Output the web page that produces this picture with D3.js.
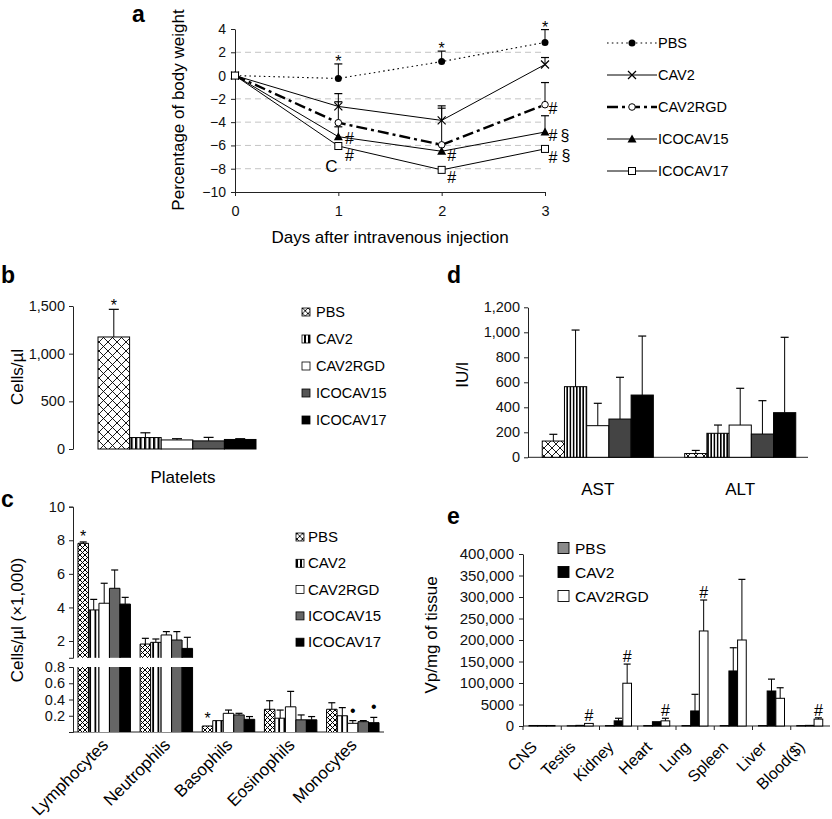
<!DOCTYPE html>
<html>
<head>
<meta charset="utf-8">
<script src="https://cdnjs.cloudflare.com/ajax/libs/d3/7.8.5/d3.min.js"></script>
<style>
  body { margin: 0; background: #fff; }
  svg { font-family: "Liberation Sans", Arial, Helvetica, sans-serif; }
</style>
</head>
<body>
<svg id="fig" width="832" height="819"></svg>
<script>
// a: body weight (% change) over days
var days = [0, 1, 2, 3];
var weightTicks = [-10, -8, -6, -4, -2, 0, 2, 4];
var weightGrid = [-8, -6, -4, -2, 2];
var wPBS = [0, -0.25, 1.2, 2.85];
var wPBSErr = [null, 1.0, 2.1, 3.95];
var wCAV2 = [0, -2.65, -3.85, 0.95];
var wCAV2Err = [null, -1.55, -2.6, 1.55];
var wCAV2RGD = [0, -4.05, -5.95, -2.5];
var wCAV2RGDErr = [null, -2.25, -2.8, -0.6];
var wICO15 = [0, -5.25, -6.5, -4.85];
var wICO15Err = [null, -4.4, null, -3.45];
var wICO17 = [0, -6.05, -8.1, -6.3];
var wICO17Err = [null, null, null, null];

// b: platelets
var groups = ["PBS", "CAV2", "CAV2RGD", "ICOCAV15", "ICOCAV17"];
var platelets = [1175, 120, 95, 85, 100];
var plateletsErr = [1465, 170, 108, 122, 108];
var plateletTicks = [0, 500, 1000, 1500];

// c: white cells (x1,000 per ul), broken axis
var cellTypes = ["Lymphocytes", "Neutrophils", "Basophils", "Eosinophils", "Monocytes"];
var cellsPBS = [7.82, 1.82, 0.074, 0.28, 0.28];
var cellsPBSErr = [7.9, 2.16, null, 0.385, 0.36];
var cellsCAV2 = [3.85, 1.92, 0.14, 0.17, 0.2];
var cellsCAV2Err = [4.48, 2.12, null, 0.27, 0.3];
var cellsCAV2RGD = [4.25, 2.36, 0.23, 0.31, 0.107];
var cellsCAV2RGDErr = [5.44, 2.56, 0.27, 0.5, 0.14];
var cellsICO15 = [5.14, 2.06, 0.21, 0.15, 0.127];
var cellsICO15Err = [6.23, 2.56, 0.23, 0.21, 0.14];
var cellsICO17 = [4.2, 1.56, 0.156, 0.15, 0.115];
var cellsICO17Err = [4.6, 2.22, 0.19, 0.19, 0.18];
var cellTicksHigh = [2, 4, 6, 8, 10];
var cellTicksLow = [0.2, 0.4, 0.6, 0.8];

// d: liver enzymes
var enzymes = ["AST", "ALT"];
var enzPBS = [130, 30];
var enzPBSErr = [184, 55];
var enzCAV2 = [565, 192];
var enzCAV2Err = [1018, 258];
var enzCAV2RGD = [253, 258];
var enzCAV2RGDErr = [432, 552];
var enzICO15 = [306, 186];
var enzICO15Err = [640, 453];
var enzICO17 = [498, 357];
var enzICO17Err = [970, 960];
var enzTicks = [0, 200, 400, 600, 800, 1000, 1200];

// e: biodistribution
var tissues = ["CNS", "Testis", "Kidney", "Heart", "Lung", "Spleen", "Liver", "Blood($)"];
var vpGroups = ["PBS", "CAV2", "CAV2RGD"];
var vpPBS = [120, 60, 100, 100, 100, 100, 100, 100];
var vpPBSErr = [null, null, null, null, null, null, null, null];
var vpCAV2 = [120, 150, 1200, 1000, 3500, 128000, 64700, 150];
var vpCAV2Err = [null, null, 1800, null, 50000, 182000, 109000, null];
var vpCAV2RGD = [120, 600, 99000, 1200, 221000, 200000, 32400, 1600];
var vpCAV2RGDErr = [null, null, 144000, 1800, 293000, 341000, 79000, 1900];
var vpTicks = [0, 5000, 100000, 150000, 200000, 250000, 300000, 350000, 400000];
var vpTickLabels = ["0", "5000", "100,000", "150,000", "200,000", "250,000", "300,000", "350,000", "400,000"];

var svg = d3.select("#fig");
var defs = svg.append("defs");

function crossHatch(id, s, sw) {
    var p = defs.append("pattern").attr("id", id).attr("patternUnits", "userSpaceOnUse")
        .attr("width", s).attr("height", s);
    p.append("rect").attr("width", s).attr("height", s).attr("fill", "#fff");
    p.append("path").attr("d", "M0,0L" + s + "," + s + "M" + s + ",0L0," + s)
        .attr("stroke", "#000").attr("stroke-width", sw);
}
function stripes(id, w, bw) {
    var p = defs.append("pattern").attr("id", id).attr("patternUnits", "userSpaceOnUse")
        .attr("width", w).attr("height", 10);
    p.append("rect").attr("width", w).attr("height", 10).attr("fill", "#fff");
    p.append("rect").attr("width", bw).attr("height", 10).attr("fill", "#000");
}
crossHatch("hatchB", 9, 0.9);
crossHatch("hatchC", 5, 1);
crossHatch("hatchD", 8, 0.9);
crossHatch("hatchLeg", 5.5, 0.9);
stripes("stripeB", 4.5, 2.2);
stripes("stripeC", 5.25, 1.8);
stripes("stripeD", 3.2, 1.6);
stripes("stripeLeg", 4, 2);

function panelLetter(t, x, y) {
    svg.append("text").attr("x", x).attr("y", y).text(t)
       .style("font-size", "23px").style("font-weight", "bold");
}
function styleAxis(g, size) {
    g.selectAll("text").style("font-size", size + "px").attr("fill", "#111");
    g.selectAll("line").attr("stroke", "#222");
    g.select(".domain").attr("stroke", "#222");
}
function errBar(g, x, y0, y1, cap) {
    g.append("line").attr("x1", x).attr("x2", x).attr("y1", y0).attr("y2", y1)
     .attr("stroke", "#000").attr("stroke-width", 1);
    g.append("line").attr("x1", x - cap / 2).attr("x2", x + cap / 2).attr("y1", y1).attr("y2", y1)
     .attr("stroke", "#000").attr("stroke-width", 1.2);
}
function note(g, t, x, y, size) {
    g.append("text").attr("x", x).attr("y", y).attr("text-anchor", "middle")
     .style("font-size", size + "px").text(t);
}
function yTitle(t, x, y, size) {
    svg.append("text").attr("transform", "translate(" + x + "," + y + ") rotate(-90)")
       .attr("text-anchor", "middle").style("font-size", size + "px").text(t);
}

// ---------------- panel a ----------------
var pa = svg.append("g");
var ax = d3.scaleLinear().domain([0, 3]).range([235, 545]);
var ay = d3.scaleLinear().domain([-10, 4]).range([192, 29]);

pa.selectAll(".grid").data(weightGrid).enter().append("line")
  .attr("x1", ax(0)).attr("x2", ax(3))
  .attr("y1", function(d) {return ay(d);}).attr("y2", function(d) {return ay(d);})
  .attr("stroke", "#c4c4c4").attr("stroke-dasharray", "6,4");

var gay = pa.append("g").attr("transform", "translate(" + ax(0) + ",0)")
  .call(d3.axisLeft(ay).tickValues(weightTicks).tickSize(4).tickSizeOuter(0).tickPadding(5));
styleAxis(gay, 14);
var gax = pa.append("g").attr("transform", "translate(0," + ay(-10) + ")")
  .call(d3.axisBottom(ax).tickValues(days).tickSize(4).tickSizeOuter(0).tickPadding(10).tickFormat(d3.format("d")));
styleAxis(gax, 14.5);

svg.append("text").attr("x", 390).attr("y", 243).attr("text-anchor", "middle")
   .style("font-size", "17px").text("Days after intravenous injection");
yTitle("Percentage of body weight", 184, 110, 17);
panelLetter("a", 132, 22);

var weightSeries = [
    {v: wPBS, err: wPBSErr, dash: "1.6,3.2", width: 1.1, mark: "dot"},
    {v: wCAV2, err: wCAV2Err, dash: null, width: 1, mark: "x"},
    {v: wCAV2RGD, err: wCAV2RGDErr, dash: "11,4,3,4", width: 2.4, mark: "ring"},
    {v: wICO15, err: wICO15Err, dash: null, width: 1, mark: "tri"},
    {v: wICO17, err: wICO17Err, dash: null, width: 1, mark: "sq"}
];

function drawMarker(g, type, x, y) {
    if (type === "dot") {
        g.append("circle").attr("cx", x).attr("cy", y).attr("r", 3.5).attr("fill", "#000");
    } else if (type === "x") {
        g.append("path").attr("d", "M" + (x - 4) + "," + (y - 4) + "L" + (x + 4) + "," + (y + 4) +
                "M" + (x + 4) + "," + (y - 4) + "L" + (x - 4) + "," + (y + 4))
         .attr("stroke", "#000").attr("stroke-width", 1.2);
    } else if (type === "ring") {
        g.append("circle").attr("cx", x).attr("cy", y).attr("r", 3.3)
         .attr("fill", "#fff").attr("stroke", "#000").attr("stroke-width", 1);
    } else if (type === "tri") {
        g.append("path").attr("d", "M" + x + "," + (y - 4.5) + "L" + (x + 4.5) + "," + (y + 3.5) + "L" + (x - 4.5) + "," + (y + 3.5) + "Z")
         .attr("fill", "#000");
    } else {
        g.append("rect").attr("x", x - 3.5).attr("y", y - 3.5).attr("width", 7).attr("height", 7)
         .attr("fill", "#fff").attr("stroke", "#000").attr("stroke-width", 1);
    }
}

var wline = d3.line().x(function(d, i) {return ax(days[i]);}).y(function(d) {return ay(d);});
weightSeries.forEach(function(s) {
    pa.append("path").attr("d", wline(s.v)).attr("fill", "none").attr("stroke", "#000")
      .attr("stroke-width", s.width).attr("stroke-dasharray", s.dash);
});
weightSeries.forEach(function(s) {
    s.err.forEach(function(e, i) {
        if (e !== null) errBar(pa, ax(days[i]), ay(s.v[i]), ay(e), 8);
    });
});
weightSeries.forEach(function(s) {
    s.v.forEach(function(v, i) {drawMarker(pa, s.mark, ax(days[i]), ay(v));});
});

// stars above PBS error bars
[1, 2, 3].forEach(function(i) {note(pa, "*", ax(days[i]), ay(wPBSErr[i]) + 3, 16);});
// significance marks next to points: series index, day index, text, offsets
var weightNotes = [
    [3, 1, "#", 11, 7], [4, 1, "#", 11, 15], [4, 1, "C", -7, 26],
    [3, 2, "#", 10, 10], [4, 2, "#", 10, 13],
    [2, 3, "#", 8, 9], [3, 3, "#", 8, 9], [3, 3, "\u00a7", 20, 9],
    [4, 3, "#", 8, 14], [4, 3, "\u00a7", 21, 12]
];
weightNotes.forEach(function(n) {
    var s = weightSeries[n[0]];
    note(pa, n[2], ax(days[n[1]]) + n[3], ay(s.v[n[1]]) + n[4], n[2] === "C" ? 17 : 16);
});

// legend a
weightSeries.forEach(function(s, i) {
    var ly = 43 + i * 32;
    pa.append("line").attr("x1", 607).attr("x2", 657).attr("y1", ly).attr("y2", ly)
      .attr("stroke", "#000").attr("stroke-width", s.width).attr("stroke-dasharray", s.dash);
    drawMarker(pa, s.mark, 632, ly);
    pa.append("text").attr("x", 658).attr("y", ly + 5).style("font-size", "14.5px").text(groups[i]);
});

// ---------------- panel b ----------------
var pb = svg.append("g");
var by = d3.scaleLinear().domain([0, 1500]).range([449, 306]);
var bx = d3.scaleBand().domain(groups).range([98, 256]);
var bFill = ["url(#hatchB)", "url(#stripeB)", "#fff", "#555", "#000"];
var gby = pb.append("g").attr("transform", "translate(73,0)")
  .call(d3.axisLeft(by).tickValues(plateletTicks).tickSize(4).tickSizeOuter(0).tickPadding(4).tickFormat(d3.format(",")));
styleAxis(gby, 14.5);
pb.selectAll(".bar").data(platelets).enter().append("rect")
  .attr("x", function(d, i) {return bx(groups[i]);})
  .attr("y", function(d) {return by(d);})
  .attr("width", bx.bandwidth())
  .attr("height", function(d) {return by(0) - by(d);})
  .attr("fill", function(d, i) {return bFill[i];})
  .attr("stroke", "#000").attr("stroke-width", 1);
platelets.forEach(function(v, i) {
    errBar(pb, bx(groups[i]) + bx.bandwidth() / 2, by(v), by(plateletsErr[i]), 10);
});
note(pb, "*", bx(groups[0]) + bx.bandwidth() / 2, by(plateletsErr[0]) + 2, 16);
svg.append("text").attr("x", 183).attr("y", 483).attr("text-anchor", "middle")
   .style("font-size", "17px").text("Platelets");
yTitle("Cells/\u00b5l", 23, 377, 17);
panelLetter("b", 1, 283);
groups.forEach(function(g, i) {
    var ly = 312 + i * 27;
    pb.append("rect").attr("x", 302).attr("y", ly - 4).attr("width", 8).attr("height", 8)
      .attr("fill", i === 0 ? "url(#hatchLeg)" : (i === 1 ? "url(#stripeLeg)" : bFill[i]))
      .attr("stroke", "#000").attr("stroke-width", 0.8);
    pb.append("text").attr("x", 316).attr("y", ly + 5).style("font-size", "14.5px").text(g);
});

// ---------------- panel c ----------------
var pc = svg.append("g");
var cyHigh = d3.scaleLinear().domain([1, 10]).range([657.8, 506.7]);
var cyLow = d3.scaleLinear().domain([0, 0.8]).range([732, 667]);
var cx0 = d3.scaleBand().domain(cellTypes).range([73, 384]).paddingInner(0.156).paddingOuter(0.08);
var cx1 = d3.scaleBand().domain(groups).range([0, cx0.bandwidth()]);
var cFill = ["url(#hatchC)", "url(#stripeC)", "#fff", "#666", "#000"];
var cellSeries = [
    [cellsPBS, cellsPBSErr], [cellsCAV2, cellsCAV2Err], [cellsCAV2RGD, cellsCAV2RGDErr],
    [cellsICO15, cellsICO15Err], [cellsICO17, cellsICO17Err]
];
var gcy1 = pc.append("g").attr("transform", "translate(73,0)")
  .call(d3.axisLeft(cyHigh).tickValues(cellTicksHigh).tickSize(4).tickSizeOuter(4).tickPadding(4));
styleAxis(gcy1, 14.5);
var gcy2 = pc.append("g").attr("transform", "translate(73,0)")
  .call(d3.axisLeft(cyLow).tickValues(cellTicksLow).tickSize(4).tickSizeOuter(4).tickPadding(4).tickFormat(d3.format(".1f")));
styleAxis(gcy2, 14.5);
pc.append("line").attr("x1", 73).attr("x2", 384).attr("y1", cyLow(0)).attr("y2", cyLow(0))
  .attr("stroke", "#222");

function openBar(g, x, w, yTop, yBot, fill, topEdge) {
    g.append("rect").attr("x", x).attr("y", yTop).attr("width", w).attr("height", yBot - yTop)
     .attr("fill", fill);
    var d = "M" + x + "," + yBot + "V" + yTop + (topEdge ? "H" : "M" + (x + w) + "," + yTop) + (topEdge ? (x + w) : "") + "V" + yBot;
    g.append("path").attr("d", d).attr("fill", "none").attr("stroke", "#000").attr("stroke-width", 1);
}
cellTypes.forEach(function(c, ci) {
    cellSeries.forEach(function(s, si) {
        var v = s[0][ci], e = s[1][ci];
        var x = cx0(c) + cx1(groups[si]), w = cx1.bandwidth();
        if (v > 0.8) {
            openBar(pc, x, w, cyLow(0.8), cyLow(0), cFill[si], false);
            openBar(pc, x, w, cyHigh(v), cyHigh(1), cFill[si], true);
            if (e !== null) errBar(pc, x + w / 2, cyHigh(v), cyHigh(e), 7);
        } else {
            openBar(pc, x, w, cyLow(v), cyLow(0), cFill[si], true);
            if (e !== null) errBar(pc, x + w / 2, cyLow(v), cyLow(e), 7);
        }
    });
    pc.append("text").attr("transform", "translate(" + (cx0(c) + cx0.bandwidth() / 2 + 5) + ",746) rotate(-45)")
      .attr("text-anchor", "end").style("font-size", "17px").text(c);
});
// star on lymphocytes and basophils PBS, dots on monocytes
note(pc, "*", cx0(cellTypes[0]) + cx1.bandwidth() / 2, cyHigh(cellsPBSErr[0]) + 0, 16);
note(pc, "*", cx0(cellTypes[2]) + cx1.bandwidth() / 2, cyLow(cellsPBS[2]) - 2, 16);
[2, 4].forEach(function(si) {
    var e = cellSeries[si][1][4];
    note(pc, "\u2022", cx0(cellTypes[4]) + cx1(groups[si]) + cx1.bandwidth() / 2, cyLow(e) - 5, 16);
});
yTitle("Cells/\u00b5l (\u00d71,000)", 23, 620, 17);
panelLetter("c", 1, 507);
groups.forEach(function(g, i) {
    var ly = 537 + i * 26.3;
    pc.append("rect").attr("x", 296).attr("y", ly - 4).attr("width", 8).attr("height", 8)
      .attr("fill", i === 0 ? "url(#hatchLeg)" : (i === 1 ? "url(#stripeLeg)" : cFill[i]))
      .attr("stroke", "#000").attr("stroke-width", 0.8);
    pc.append("text").attr("x", 308).attr("y", ly + 5).style("font-size", "15px").text(g);
});

// ---------------- panel d ----------------
var pd = svg.append("g");
var dy = d3.scaleLinear().domain([0, 1200]).range([457.3, 307.3]);
var dx0 = d3.scaleBand().domain(enzymes).range([528, 810]).paddingInner(0.22).paddingOuter(0.1);
var dx1 = d3.scaleBand().domain(groups).range([0, dx0.bandwidth()]);
var dFill = ["url(#hatchD)", "url(#stripeD)", "#fff", "#444", "#000"];
var enzSeries = [
    [enzPBS, enzPBSErr], [enzCAV2, enzCAV2Err], [enzCAV2RGD, enzCAV2RGDErr],
    [enzICO15, enzICO15Err], [enzICO17, enzICO17Err]
];
var gdy = pd.append("g").attr("transform", "translate(528,0)")
  .call(d3.axisLeft(dy).tickValues(enzTicks).tickSize(4).tickSizeOuter(0).tickPadding(4).tickFormat(d3.format(",")));
styleAxis(gdy, 14.5);
pd.append("line").attr("x1", 528).attr("x2", 808).attr("y1", dy(0)).attr("y2", dy(0)).attr("stroke", "#222");
enzymes.forEach(function(en, ei) {
    enzSeries.forEach(function(s, si) {
        var x = dx0(en) + dx1(groups[si]), w = dx1.bandwidth();
        pd.append("rect").attr("x", x).attr("y", dy(s[0][ei])).attr("width", w)
          .attr("height", dy(0) - dy(s[0][ei])).attr("fill", dFill[si])
          .attr("stroke", "#000").attr("stroke-width", 1);
        errBar(pd, x + w / 2, dy(s[0][ei]), dy(s[1][ei]), 8);
    });
    pd.append("text").attr("x", dx0(en) + dx0.bandwidth() / 2).attr("y", 495)
      .attr("text-anchor", "middle").style("font-size", "17px").text(en);
});
yTitle("IU/l", 468, 375, 17);
panelLetter("d", 447, 283);

// ---------------- panel e ----------------
var pe = svg.append("g");
var eBase = 726, eStep = 21.5;
var ey = d3.scaleLinear().domain([0, 5000, 100000, 400000])
    .range([eBase, eBase - eStep, eBase - 2 * eStep, eBase - 8 * eStep]);
var ex0 = d3.scaleBand().domain(tissues).range([523, 829]);
var ex1 = d3.scaleBand().domain(vpGroups).range([6, 32]);
var eFill = ["#8a8a8a", "#000", "#fff"];
var vpSeries = [[vpPBS, vpPBSErr], [vpCAV2, vpCAV2Err], [vpCAV2RGD, vpCAV2RGDErr]];
var gey = pe.append("g").attr("transform", "translate(523,0)")
  .call(d3.axisLeft(ey).tickValues(vpTicks).tickSize(4).tickSizeOuter(0).tickPadding(5)
        .tickFormat(function(d, i) {return vpTickLabels[i];}));
styleAxis(gey, 15);
pe.append("line").attr("x1", 523).attr("x2", 830).attr("y1", eBase).attr("y2", eBase).attr("stroke", "#222");
tissues.forEach(function(t, ti) {
    pe.append("line").attr("x1", ex0(t)).attr("x2", ex0(t)).attr("y1", eBase).attr("y2", eBase + 4)
      .attr("stroke", "#222");
    vpSeries.forEach(function(s, si) {
        var x = ex0(t) + ex1(vpGroups[si]), w = ex1.bandwidth();
        pe.append("rect").attr("x", x).attr("y", ey(s[0][ti])).attr("width", w)
          .attr("height", eBase - ey(s[0][ti])).attr("fill", eFill[si])
          .attr("stroke", "#000").attr("stroke-width", 1);
        if (s[1][ti] !== null) errBar(pe, x + w / 2, ey(s[0][ti]), ey(s[1][ti]), 7);
    });
    pe.append("text").attr("transform", "translate(" + (ex0(t) + ex0.bandwidth() / 2 - 4) + ",748) rotate(-45)")
      .attr("text-anchor", "end").style("font-size", "16px").text(t);
});
// # above CAV2RGD in Testis, Kidney, Heart, Lung, Blood
[1, 2, 3, 4, 7].forEach(function(ti) {
    var top = vpCAV2RGDErr[ti] !== null ? vpCAV2RGDErr[ti] : vpCAV2RGD[ti];
    note(pe, "#", ex0(tissues[ti]) + ex1("CAV2RGD") + ex1.bandwidth() / 2, ey(top) - 2, 16);
});
yTitle("Vp/mg of tissue", 437, 635, 17);
panelLetter("e", 447, 524);
vpGroups.forEach(function(g, i) {
    var ly = 548 + i * 24;
    pe.append("rect").attr("x", 558).attr("y", ly - 5.5).attr("width", 11).attr("height", 11)
      .attr("fill", eFill[i]).attr("stroke", "#000").attr("stroke-width", 0.9);
    pe.append("text").attr("x", 575).attr("y", ly + 5.5).style("font-size", "15.5px").text(g);
});
</script>
</body>
</html>
